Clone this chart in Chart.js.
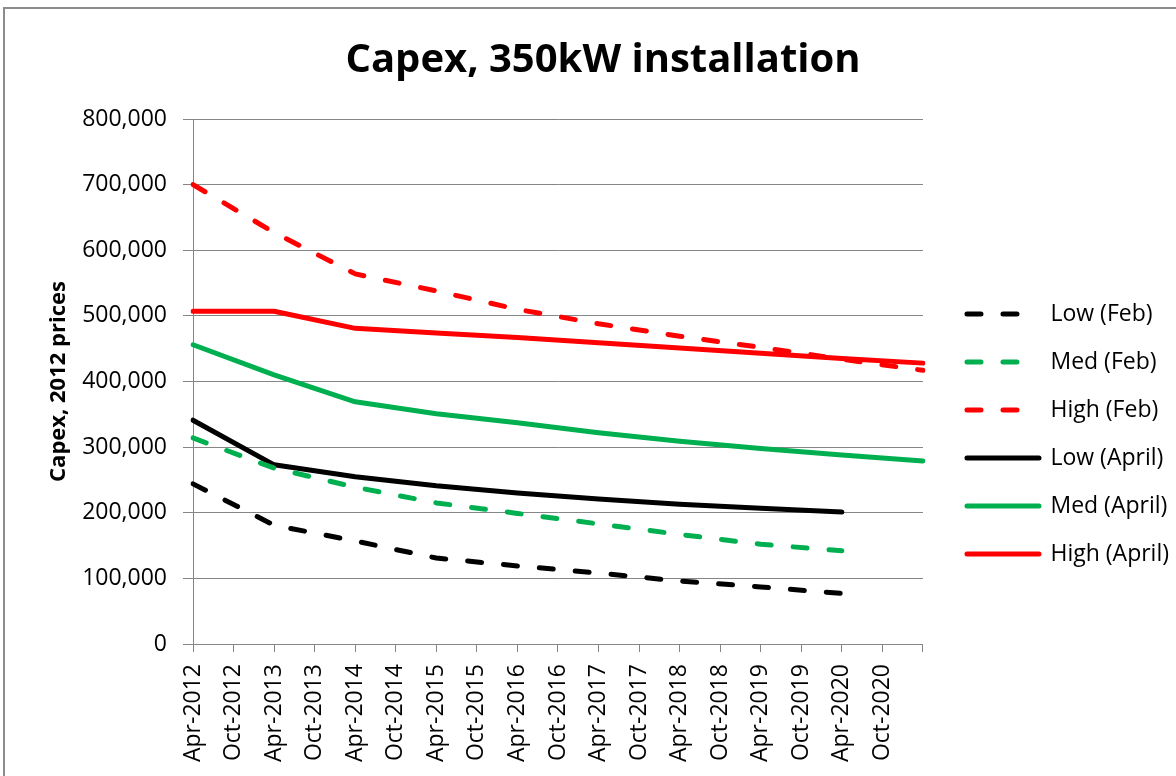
<!DOCTYPE html>
<html>
<head>
<meta charset="utf-8">
<script src="https://cdn.jsdelivr.net/npm/chart.js@4/dist/chart.umd.min.js"></script>
<style>
  body { margin: 0; background: #fff; }
  #wrap { position: relative; width: 1176px; height: 776px; overflow: hidden; }
  #frame { position: absolute; left: 3px; top: 7px; width: 1200px; height: 800px; border: 2px solid #8c8c8c; }
  canvas { position: absolute; left: 0; top: 0; }
</style>
</head>
<body>
<div id="wrap">
  <div id="frame"></div>
  <canvas id="chart" width="1176" height="776"></canvas>
</div>
<script>
// half-year category labels, last slot (Apr-2021) has no label
var labels = ['Apr-2012', 'Oct-2012', 'Apr-2013', 'Oct-2013', 'Apr-2014', 'Oct-2014',
    'Apr-2015', 'Oct-2015', 'Apr-2016', 'Oct-2016', 'Apr-2017', 'Oct-2017',
    'Apr-2018', 'Oct-2018', 'Apr-2019', 'Oct-2019', 'Apr-2020', 'Oct-2020', ''];

// one point per year, every April
var pointDates = ['Apr-2012', 'Apr-2013', 'Apr-2014', 'Apr-2015', 'Apr-2016',
    'Apr-2017', 'Apr-2018', 'Apr-2019', 'Apr-2020', ''];

var lowFeb = [244000, 181000, 157000, 131000, 119000, 108000, 96000, 87000, 77000];
var medFeb = [314000, 268000, 239000, 215000, 199000, 183000, 167000, 152000, 142000];
var highFeb = [700000, 627000, 564000, 538000, 510000, 488000, 469000, 452000, 434000, 417000];
var lowApril = [341000, 273000, 255000, 241000, 230000, 221000, 213000, 207000, 201000];
var medApril = [456000, 410000, 369000, 351000, 337000, 322000, 309000, 298000, 288000, 279000];
var highApril = [507000, 507000, 481000, 474000, 467000, 459000, 451000, 443000, 435000, 428000];

var yTicks = [0, 100000, 200000, 300000, 400000, 500000, 600000, 700000, 800000];

var RED = '#ff0000', GREEN = '#00b050', BLACK = '#000000';
var DASH = [14, 22];

function points(values) {
    return values.map(function (v, i) { return { x: pointDates[i], y: v }; });
}

function series(label, values, color, dashed) {
    return {
        label: label,
        data: points(values),
        borderColor: color,
        backgroundColor: color,
        borderWidth: 5,
        borderDash: dashed ? DASH : [],
        borderCapStyle: 'round',
        borderJoinStyle: 'round',
        pointRadius: 0,
        pointHoverRadius: 0,
        tension: 0,
        fill: false
    };
}

// nudge the legend box into place after layout
var legendShift = {
    id: 'legendShift',
    afterLayout: function (chart) {
        var lg = chart.legend;
        var dx = 19, dy = 46;
        lg.left += dx; lg.right += dx;
        lg.top += dy; lg.bottom += dy;
    }
};

new Chart(document.getElementById('chart'), {
    type: 'line',
    data: {
        labels: labels,
        datasets: [
            series('Low (Feb)', lowFeb, BLACK, true),
            series('Med (Feb)', medFeb, GREEN, true),
            series('High (Feb)', highFeb, RED, true),
            series('Low (April)', lowApril, BLACK, false),
            series('Med (April)', medApril, GREEN, false),
            series('High (April)', highApril, RED, false)
        ]
    },
    options: {
        responsive: false,
        animation: false,
        layout: { padding: { left: 46, right: 16, top: 0, bottom: 0 } },
        plugins: {
            title: {
                display: true,
                text: 'Capex, 350kW installation',
                color: '#000',
                font: { family: 'Open Sans', size: 40, weight: 'bold' },
                padding: { top: 37, bottom: 34 }
            },
            legend: {
                position: 'right',
                labels: {
                    color: '#000',
                    font: { family: 'Open Sans', size: 23 },
                    usePointStyle: true,
                    pointStyle: 'line',
                    pointStyleWidth: 72,
                    padding: 25,
                    generateLabels: function (chart) {
                        var items = Chart.defaults.plugins.legend.labels.generateLabels(chart);
                        items.forEach(function (it) {
                            var ds = chart.data.datasets[it.datasetIndex];
                            it.lineDash = ds.borderDash;
                            it.lineWidth = ds.borderWidth;
                            it.strokeStyle = ds.borderColor;
                            it.lineCap = 'round';
                        });
                        return items;
                    }
                }
            },
            tooltip: { enabled: false }
        },
        scales: {
            x: {
                type: 'category',
                offset: false,
                grid: {
                    drawOnChartArea: false,
                    drawTicks: true,
                    tickLength: 8,
                    color: '#868686'
                },
                border: { color: '#868686', width: 1 },
                ticks: {
                    autoSkip: false,
                    minRotation: 90,
                    maxRotation: 90,
                    padding: 12,
                    color: '#000',
                    font: { family: 'Open Sans', size: 23 }
                },
                afterFit: function (scale) { scale.height = 132; }
            },
            y: {
                min: 0,
                max: 800000,
                afterBuildTicks: function (scale) {
                    scale.ticks = yTicks.map(function (v) { return { value: v }; });
                },
                grid: {
                    color: '#868686',
                    lineWidth: 1,
                    tickLength: 10
                },
                border: { color: '#868686', width: 1 },
                ticks: {
                    padding: 16,
                    color: '#000',
                    font: { family: 'Open Sans', size: 23 },
                    callback: function (v) { return v.toLocaleString('en-US'); }
                },
                title: {
                    display: true,
                    text: 'Capex, 2012 prices',
                    color: '#000',
                    font: { family: 'Open Sans', size: 22, weight: 'bold' },
                    padding: 0
                },
                afterFit: function (scale) { scale.width = 147; }
            }
        }
    },
    plugins: [legendShift]
});
</script>
</body>
</html>
